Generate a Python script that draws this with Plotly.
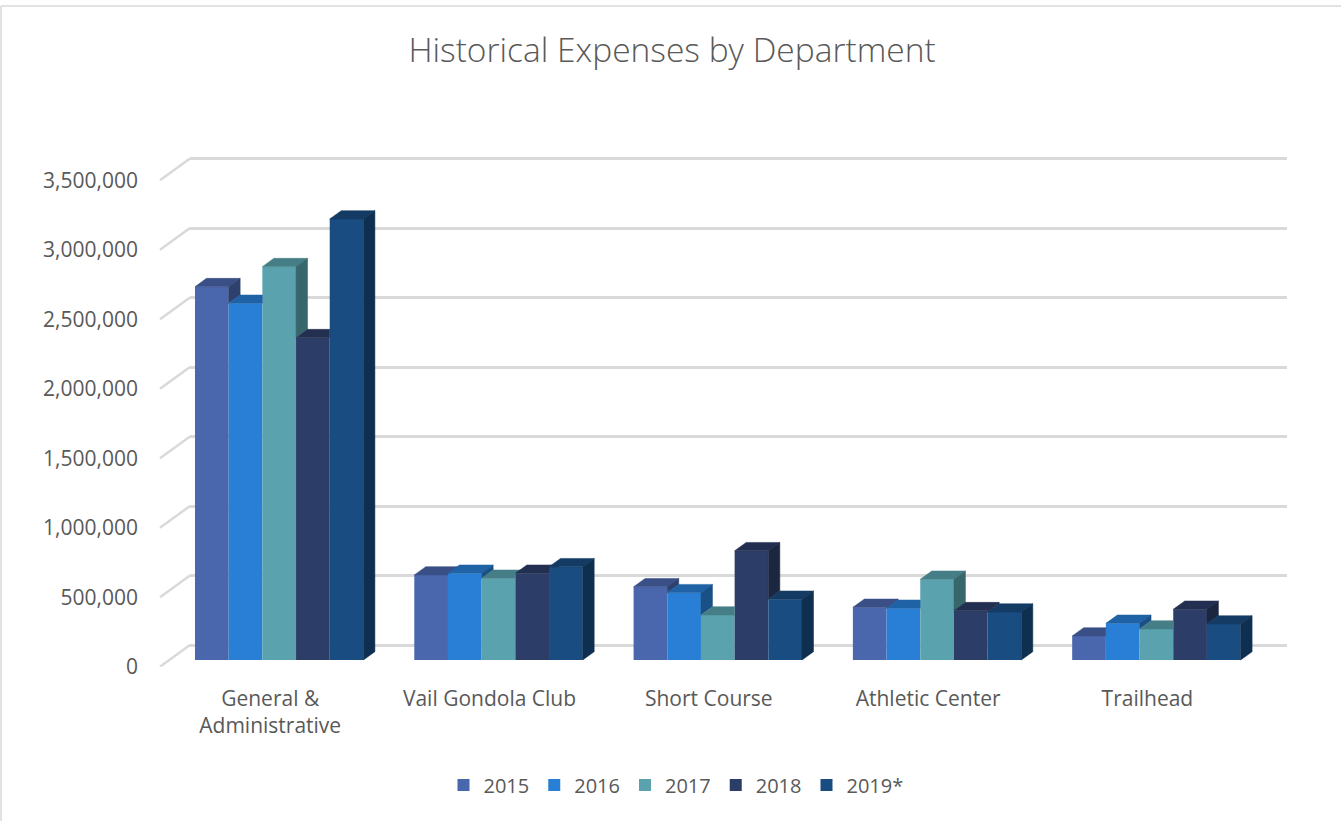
import numpy as np
import plotly.graph_objects as go

# ---------------- data ----------------
departments = ["General &<br>Administrative", "Vail Gondola Club", "Short Course",
               "Athletic Center", "Trailhead"]
years = ["2015", "2016", "2017", "2018", "2019*"]
exp_2015 = [2686000, 612000, 527000, 379000, 173000]
exp_2016 = [2566000, 624000, 484000, 372000, 264000]
exp_2017 = [2830000, 588000, 324000, 581000, 223000]
exp_2018 = [2319000, 624000, 786000, 355000, 365000]
exp_2019 = [3173000, 671000, 437000, 345000, 259000]
y_ticks = [0, 500000, 1000000, 1500000, 2000000, 2500000, 3000000, 3500000]

series = [exp_2015, exp_2016, exp_2017, exp_2018, exp_2019]
colors = ["#4A66AC", "#297FD5", "#5AA2AE", "#2C3D67", "#194C80"]

# ---------------- layout geometry (pixels) ----------------
W, H = 1341, 821
K = 139.0 / 1e6            # px per unit of value
CAT_PX = 219.3             # px per category
FRONT_ZERO = 666.7         # front plane zero (tick labels)
BAR_ZERO = 660.0           # bar front faces zero
BACK_ZERO = 645.0          # back wall zero (gridlines)
TOP_PY = 150.0
PLOT_L, PLOT_R = 190.0, 1286.7
FIRST_CENTER = 279.2
WALL_FRONT_X = 160.0
DEPTH_X_PX, DEPTH_Y_PX = 11.5, 8.3
LABEL_SHIFT_PX = 9.0
GROUP_FRAC = 0.768
GRID_COLOR = "#D9D9D9"
TEXT_COLOR = "#595959"
FONT = "Open Sans"


def shade(hex_color, f):
    h = hex_color.lstrip("#")
    r, g, b = (int(h[i:i + 2], 16) for i in (0, 2, 4))
    return "rgb({},{},{})".format(int(r * f), int(g * f), int(b * f))


span = (FRONT_ZERO - TOP_PY) / K
off_grid = (FRONT_ZERO - BACK_ZERO) / K
off_bar = (FRONT_ZERO - BAR_ZERO) / K
x_left = -(FIRST_CENTER - PLOT_L) / CAT_PX
x_right = x_left + (PLOT_R - PLOT_L) / CAT_PX

n_ser = len(series)
bw = GROUP_FRAC / n_ser
off0 = -GROUP_FRAC / 2
dx = DEPTH_X_PX / CAT_PX
dy = DEPTH_Y_PX / K

fig = go.Figure()

# front faces (bars)
xpos = np.arange(len(departments))
for j, (name, vals, col) in enumerate(zip(years, series, colors)):
    fig.add_trace(go.Bar(
        x=xpos, y=vals, name=name, width=bw, offset=off0 + j * bw,
        marker=dict(color=col, line=dict(width=0)),
        xaxis="x", yaxis="y3", hoverinfo="name+y",
    ))

# top and side faces (3D effect) derived from the data
for j, (vals, col) in enumerate(zip(series, colors)):
    tx, ty, sx, sy = [], [], [], []
    for i in range(len(departments)):
        h = vals[i]
        hn = series[j + 1][i] if j + 1 < n_ser else 0
        L = i + off0 + j * bw
        R = L + bw
        if hn <= h:
            px_ = [L, R, R + dx, L + dx, L]
            py_ = [h, h, h + dy, h + dy, h]
        elif hn >= h + dy:
            px_ = [L, R, R, L + dx, L]
            py_ = [h, h, h + dy, h + dy, h]
        else:
            px_ = [L, R, R, R + dx * (hn - h) / dy, R + dx, L + dx, L]
            py_ = [h, h, hn, hn, h + dy, h + dy, h]
        tx += px_ + [None]
        ty += py_ + [None]
        if h > hn:
            sx += [R, R, R + dx, R + dx, R, None]
            sy += [hn, h, h + dy, hn + dy, hn, None]
    fig.add_trace(go.Scatter(x=tx, y=ty, mode="lines", fill="toself",
                             fillcolor=shade(col, 0.78),
                             line=dict(color=shade(col, 0.78), width=0.5),
                             xaxis="x", yaxis="y3", showlegend=False, hoverinfo="skip"))
    if sx:
        fig.add_trace(go.Scatter(x=sx, y=sy, mode="lines", fill="toself",
                                 fillcolor=shade(col, 0.63),
                                 line=dict(color=shade(col, 0.63), width=0.5),
                                 xaxis="x", yaxis="y3", showlegend=False, hoverinfo="skip"))

# gridline carrier (invisible trace so the grid axis is drawn)
fig.add_trace(go.Scatter(x=[x_left], y=[0], mode="markers", marker=dict(opacity=0),
                         xaxis="x", yaxis="y2", showlegend=False, hoverinfo="skip"))

# wall diagonals from front tick to back gridline
shapes = []
for v in y_ticks:
    shapes.append(dict(type="line", xref="paper", yref="y",
                       x0=WALL_FRONT_X / W, x1=PLOT_L / W, y0=v, y1=v + off_grid,
                       line=dict(color=GRID_COLOR, width=2.5), layer="below"))
# chart area border (top and left edges visible)
shapes.append(dict(type="line", xref="paper", yref="paper",
                   x0=1 / W, x1=1.0, y0=1 - 6 / H, y1=1 - 6 / H,
                   line=dict(color=GRID_COLOR, width=1.5), layer="below"))
shapes.append(dict(type="line", xref="paper", yref="paper",
                   x0=1 / W, x1=1 / W, y0=0, y1=1 - 6 / H,
                   line=dict(color=GRID_COLOR, width=1.5), layer="below"))

ydom = [1 - FRONT_ZERO / H, 1 - TOP_PY / H]
fig.update_layout(
    width=W, height=H, autosize=False,
    margin=dict(l=0, r=0, t=0, b=0, autoexpand=False),
    paper_bgcolor="white", plot_bgcolor="rgba(0,0,0,0)",
    font=dict(family=FONT, color=TEXT_COLOR, size=21),
    barmode="overlay",
    title=dict(text="Historical Expenses by Department", x=672 / W, xanchor="center",
               y=1 - 50 / H, yanchor="middle",
               font=dict(family=FONT, size=33.5, color=TEXT_COLOR, weight=300)),
    xaxis=dict(domain=[PLOT_L / W, PLOT_R / W], range=[x_left, x_right],
               tickvals=list(xpos - LABEL_SHIFT_PX / CAT_PX), ticktext=departments,
               showgrid=False, zeroline=False, showline=False, ticks="",
               ticklabelstandoff=17, tickfont=dict(size=21, color=TEXT_COLOR),
               anchor="y", automargin=False, fixedrange=True),
    yaxis=dict(domain=ydom, range=[0, span], tickvals=y_ticks, tickformat=",",
               showgrid=False, zeroline=False, showline=False, ticks="",
               anchor="free", position=WALL_FRONT_X / W, ticklabelstandoff=22,
               tickfont=dict(size=21, color=TEXT_COLOR), automargin=False,
               fixedrange=True),
    yaxis2=dict(overlaying="y", range=[-off_grid, span - off_grid], tickvals=y_ticks,
                showticklabels=False, showgrid=True, gridcolor=GRID_COLOR, gridwidth=2.5,
                zeroline=False, showline=False, ticks="", automargin=False,
                fixedrange=True),
    yaxis3=dict(overlaying="y", range=[-off_bar, span - off_bar],
                showticklabels=False, showgrid=False, zeroline=False, showline=False,
                ticks="", automargin=False, fixedrange=True),
    legend=dict(orientation="h", x=676 / W, xanchor="center", y=1 - 785 / H,
                yanchor="middle", font=dict(size=20, color=TEXT_COLOR),
                bgcolor="rgba(0,0,0,0)", traceorder="normal"),
    shapes=shapes,
    showlegend=True,
)

fig.write_html("out.html")
